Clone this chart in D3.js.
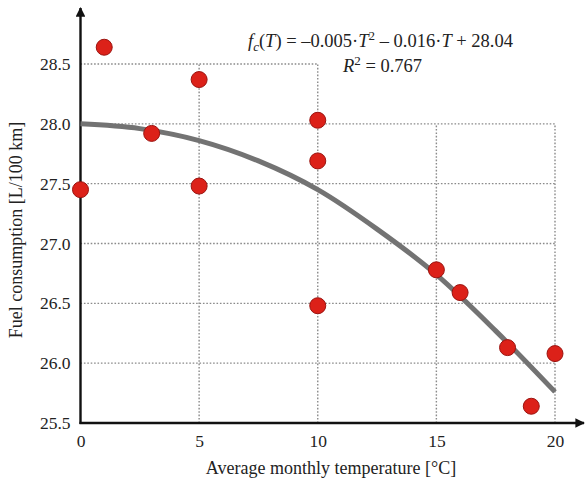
<!DOCTYPE html>
<html>
<head>
<meta charset="utf-8">
<script src="https://cdn.jsdelivr.net/npm/d3@7"></script>
<style>
  body { margin: 0; background: #fff; }
  svg { font-family: "Liberation Serif", "DejaVu Serif", serif; }
</style>
</head>
<body>
<svg class="chart" width="586" height="484"></svg>
<script>
// measured points: monthly temperature vs fuel consumption
const temps = [0, 1, 3, 5, 5, 10, 10, 10, 15, 16, 18, 19, 20];
const fuel = [27.45, 28.64, 27.92, 28.37, 27.48, 28.03, 27.69, 26.48, 26.78, 26.59, 26.13, 25.64, 26.08];

// fitted trend curve
const curveT = [0, 2.5, 5, 7.5, 10, 12.5, 15, 17.5, 20];
const curveF = [28.0, 27.96, 27.86, 27.69, 27.45, 27.12, 26.74, 26.27, 25.76];

const xTicks = [0, 5, 10, 15, 20];
const yTicks = [25.5, 26.0, 26.5, 27.0, 27.5, 28.0, 28.5];

// dotted grid: horizontal lines (value, last T), vertical lines (T, top value)
const hGrid = [[26.0, 20], [26.5, 20], [27.0, 20], [27.5, 20], [28.0, 20], [28.5, 10]];
const vGrid = [[5, 28.5], [10, 28.5], [15, 28.0], [20, 28.0]];

const svg = d3.select(".chart");
const x = d3.scaleLinear().domain([0, 20]).range([80.5, 555]);
const y = d3.scaleLinear().domain([25.5, 28.5]).range([423, 64]);

const defs = svg.append("defs");
defs.append("marker")
  .attr("id", "arrow")
  .attr("viewBox", "0 0 10 10")
  .attr("refX", 9).attr("refY", 5)
  .attr("markerWidth", 4).attr("markerHeight", 4)
  .attr("orient", "auto")
  .append("path")
  .attr("d", "M0,0 L10,5 L0,10 Z")
  .attr("fill", "#111");

// grid
const grid = svg.append("g")
  .attr("stroke", "#8a8a8a")
  .attr("stroke-width", 1.4)
  .attr("stroke-dasharray", "1.6,1.8");
grid.selectAll(".h").data(hGrid).enter().append("line")
  .attr("x1", x(0)).attr("x2", d => x(d[1]))
  .attr("y1", d => y(d[0])).attr("y2", d => y(d[0]));
grid.selectAll(".v").data(vGrid).enter().append("line")
  .attr("x1", d => x(d[0])).attr("x2", d => x(d[0]))
  .attr("y1", y(25.5)).attr("y2", d => y(d[1]));

// axes
svg.append("line")
  .attr("x1", x(0)).attr("x2", x(0))
  .attr("y1", y(25.5) + 1).attr("y2", 8)
  .attr("stroke", "#111").attr("stroke-width", 2.4)
  .attr("marker-end", "url(#arrow)");
svg.append("line")
  .attr("x1", x(0) - 1).attr("x2", 584)
  .attr("y1", y(25.5)).attr("y2", y(25.5))
  .attr("stroke", "#111").attr("stroke-width", 2.4)
  .attr("marker-end", "url(#arrow)");

const yAxis = svg.append("g")
  .attr("transform", `translate(${x(0)},0)`)
  .call(d3.axisLeft(y).tickValues(yTicks).tickSize(0).tickPadding(10).tickFormat(d3.format(".1f")));
yAxis.select(".domain").remove();
yAxis.selectAll("text")
  .attr("font-family", "Liberation Serif")
  .attr("font-size", 17.5)
  .attr("fill", "#222");

const xAxis = svg.append("g")
  .attr("transform", `translate(0,${y(25.5)})`)
  .call(d3.axisBottom(x).tickValues(xTicks).tickSize(0).tickPadding(12));
xAxis.select(".domain").remove();
xAxis.selectAll("text")
  .attr("font-family", "Liberation Serif")
  .attr("font-size", 17.5)
  .attr("fill", "#222");

// axis titles
svg.append("text")
  .attr("x", 331).attr("y", 474)
  .attr("text-anchor", "middle")
  .attr("font-size", 18).attr("fill", "#222")
  .text("Average monthly temperature [°C]");
svg.append("text")
  .attr("transform", "translate(22,230) rotate(-90)")
  .attr("text-anchor", "middle")
  .attr("font-size", 18).attr("fill", "#222")
  .text("Fuel consumption [L/100 km]");

// trend curve
const curve = curveT.map((t, i) => [t, curveF[i]]);
svg.append("path")
  .datum(curve)
  .attr("fill", "none")
  .attr("stroke", "#737373")
  .attr("stroke-width", 5)
  .attr("d", d3.line().x(d => x(d[0])).y(d => y(d[1])).curve(d3.curveMonotoneX));

// points
const pts = temps.map((t, i) => ({ t, f: fuel[i] }));
svg.append("g").selectAll("circle")
  .data(pts)
  .enter().append("circle")
  .attr("cx", d => x(d.t))
  .attr("cy", d => y(d.f))
  .attr("r", 8)
  .attr("fill", "#dc2119")
  .attr("stroke", "#9b1410")
  .attr("stroke-width", 1);

// equation
const eq = svg.append("text")
  .attr("x", 248).attr("y", 47)
  .attr("font-size", 18.5).attr("fill", "#222");
eq.append("tspan").attr("font-style", "italic").text("f");
eq.append("tspan").attr("font-style", "italic").attr("font-size", 13).attr("dy", 4).text("c");
eq.append("tspan").attr("dy", -4).text("(");
eq.append("tspan").attr("font-style", "italic").text("T");
eq.append("tspan").text(") = \u20130.005\u00b7");
eq.append("tspan").attr("font-style", "italic").text("T");
eq.append("tspan").attr("font-size", 13).attr("dy", -7).text("2");
eq.append("tspan").attr("dy", 7).text(" \u2013 0.016\u00b7");
eq.append("tspan").attr("font-style", "italic").text("T");
eq.append("tspan").text(" + 28.04");

const r2 = svg.append("text")
  .attr("x", 343).attr("y", 72)
  .attr("font-size", 18.5).attr("fill", "#222");
r2.append("tspan").attr("font-style", "italic").text("R");
r2.append("tspan").attr("font-size", 13).attr("dy", -7).text("2");
r2.append("tspan").attr("dy", 7).text(" = 0.767");
</script>
</body>
</html>
